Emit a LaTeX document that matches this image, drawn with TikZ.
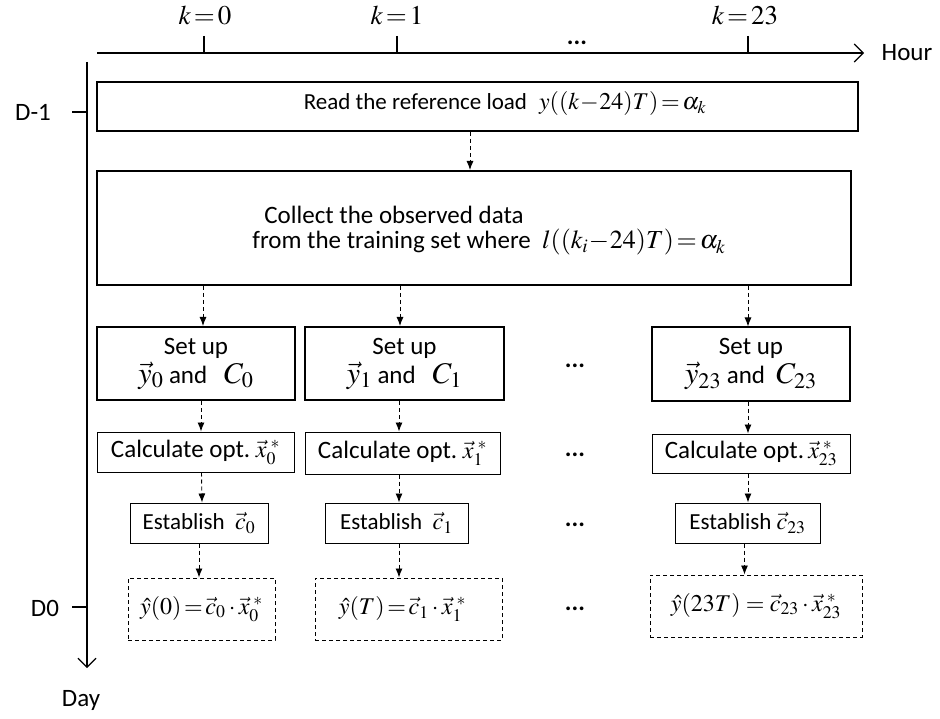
\documentclass[tikz,border=0pt]{standalone}
\usepackage{mathptmx}
\usepackage[no-math]{fontspec}
\setmainfont{Carlito}
\usetikzlibrary{arrows.meta}
\newcommand{\mymath}[1]{{\fontsize{24}{26}\selectfont$#1$}}
\newcommand{\mybigmath}[1]{{\fontsize{30}{31}\selectfont$#1$}}
\begin{document}
\begin{tikzpicture}[x=1pt,y=-1pt,
  font=\fontsize{25}{28}\selectfont,
  thickbox/.style={draw, line width=2pt, inner sep=0pt, align=center},
  thinbox/.style={draw, line width=1pt, inner sep=0pt, align=center},
  dashbox/.style={draw, line width=1pt, dash pattern=on 4pt off 3pt, inner sep=0pt, align=center},
  flow/.style={line width=0.9pt, dash pattern=on 4pt off 3pt, -{Latex[length=9pt,width=7pt]}},
  axis/.style={line width=1.1pt, -{Straight Barb[length=9pt,width=18pt,line width=1.1pt]}},
  tick/.style={line width=1.1pt},
  lbl/.style={inner sep=0pt},
  mth/.style={inner sep=0pt, font=\fontsize{27}{29}\selectfont}
]
\useasboundingbox (0,0) rectangle (940,719);

% axes
\coordinate (hs) at (97,53);
\coordinate (he) at (864,53);
\draw[axis] (hs) -- (he);
\node[lbl] (hour) at (907,53) {Hour};
\coordinate (vs) at (87,62);
\coordinate (ve) at (87,668);
\draw[axis] (vs) -- (ve);
\node[lbl] (day) at (81,700) {Day};

% hour ticks
\coordinate (t0a) at (204,36); \coordinate (t0b) at (204,53);
\coordinate (t1a) at (397,36); \coordinate (t1b) at (397,53);
\coordinate (t2a) at (748,36); \coordinate (t2b) at (748,53);
\draw[tick] (t0a) -- (t0b);
\draw[tick] (t1a) -- (t1b);
\draw[tick] (t2a) -- (t2b);
\node[mth] (k0) at (205,15) {$k\!=\!0$};
\node[mth] (k1) at (397,15) {$k\!=\!1$};
\node[mth] (k23) at (745,15) {$k\!=\!23$};
\node[lbl] (hdots) at (577,43) {\textbf{...}};

% day ticks
\coordinate (d1a) at (72,112); \coordinate (d1b) at (87,112);
\coordinate (d0a) at (72,607); \coordinate (d0b) at (87,607);
\draw[tick] (d1a) -- (d1b);
\draw[tick] (d0a) -- (d0b);
\node[lbl] (dm1) at (33,112) {D-1};
\node[lbl] (d0) at (45,608) {D0};

% top boxes
\node[thickbox, minimum width=761pt, minimum height=49pt] (read) at (477.5,106.5) {};
\node[lbl] (readtxt) at (505,104) {{\fontsize{23}{26}\selectfont Read the reference load}\hspace{12pt}\mymath{y((k\!-\!24)T)\!=\!\alpha_k}};
\node[thickbox, minimum width=754pt, minimum height=114pt] (collect) at (474,228) {};
\node[lbl, align=left] (collecttxt) at (489,231) {\hspace*{12pt}Collect the observed data\\[-3pt] from the training\ set where\ \ {\fontsize{26}{28}\selectfont$l((k_i\!-\!24)T)\!=\!\alpha_k$}};
\draw[flow] ([xshift=-7.5pt]read.south) -- ([xshift=-4pt]collect.north);

% set up boxes
\node[thickbox, minimum width=198pt, minimum height=73pt] (sA) at (196,363.5) {Set up\\[1pt] \mybigmath{\vec{y}_0}\ and\ \ \ \mybigmath{C_0}};
\node[thickbox, minimum width=199pt, minimum height=73pt] (sB) at (404.5,363.5) {Set up\\[1pt] \mybigmath{\vec{y}_1}\ and\ \ \ \mybigmath{C_1}};
\node[thickbox, minimum width=198pt, minimum height=73pt] (sC) at (751,364) {Set up\\[1pt] \mybigmath{\vec{y}_{23}}\ and\ \ \mybigmath{C_{23}}};
\node[lbl] (dots1) at (575,366) {\textbf{...}};

\draw[flow] ([xshift=7pt]collect.south -| sA.north) -- ([xshift=7pt]sA.north);
\draw[flow] ([xshift=-4.5pt]collect.south -| sB.north) -- ([xshift=-4.5pt]sB.north);
\draw[flow] ([xshift=-3pt]collect.south -| sC.north) -- ([xshift=-3pt]sC.north);

% calculate boxes
\node[thinbox, minimum width=197pt, minimum height=40pt] (cA) at (195.5,452) {Calculate opt.\ \mymath{\vec{x}_0^{\;*}}};
\node[thinbox, minimum width=195pt, minimum height=42pt] (cB) at (402.5,453) {Calculate opt.\ \mymath{\vec{x}_1^{\;*}}};
\node[thinbox, minimum width=198pt, minimum height=39pt] (cC) at (751,453.5) {Calculate opt.\,\mymath{\vec{x}_{23}^{\;*}}};
\node[lbl] (dots2) at (575,455) {\textbf{...}};
\draw[flow] ([xshift=5pt]sA.south) -- ([xshift=5.5pt]cA.north);
\draw[flow] ([xshift=-5.5pt]sB.south) -- ([xshift=-3.5pt]cB.north);
\draw[flow] ([xshift=-3pt]sC.south) -- ([xshift=-3pt]cC.north);

% establish boxes
\node[thinbox, minimum width=138pt, minimum height=40pt, font=\fontsize{23}{26}\selectfont] (eA) at (199,523) {Establish\ \ \mymath{\vec{c}_0}};
\node[thinbox, minimum width=143pt, minimum height=40pt, font=\fontsize{23}{26}\selectfont] (eB) at (396.5,523) {Establish\ \ \mymath{\vec{c}_1}};
\node[thinbox, minimum width=145pt, minimum height=40pt, font=\fontsize{23}{26}\selectfont] (eC) at (747.5,523) {Establish\ \mymath{\vec{c}_{23}}};
\node[lbl] (dots3) at (575,525) {\textbf{...}};
\draw[flow] ([xshift=6pt]cA.south) -- ([xshift=3pt]eA.north);
\draw[flow] ([xshift=-3.5pt]cB.south) -- ([xshift=2.5pt]eB.north);
\draw[flow] ([xshift=-3pt]cC.south) -- ([xshift=0.5pt]eC.north);

% result boxes
\node[dashbox, minimum width=147pt, minimum height=62pt] (rA) at (201.5,609) {\mymath{\hat{y}(0)\!=\!\vec{c}_0\cdot\vec{x}_0^{\;*}}};
\node[dashbox, minimum width=187pt, minimum height=62pt] (rB) at (408.5,609) {\mymath{\hat{y}(T)\!=\!\vec{c}_1\cdot\vec{x}_1^{\;*}}\hspace*{12pt}};
\node[dashbox, minimum width=212pt, minimum height=62pt] (rC) at (756,606) {\mymath{\hat{y}(23T)=\vec{c}_{23}\cdot\vec{x}_{23}^{\;*}}};
\node[lbl] (dots4) at (575,609) {\textbf{...}};
\draw[flow] (eA.south) -- (eA.south |- rA.north);
\draw[flow] ([xshift=2.5pt]eB.south) -- ([xshift=2.5pt]eB.south |- rB.north);
\draw[flow] ([xshift=-3pt]eC.south) -- ([xshift=-3pt]eC.south |- rC.north);
\end{tikzpicture}
\end{document}
